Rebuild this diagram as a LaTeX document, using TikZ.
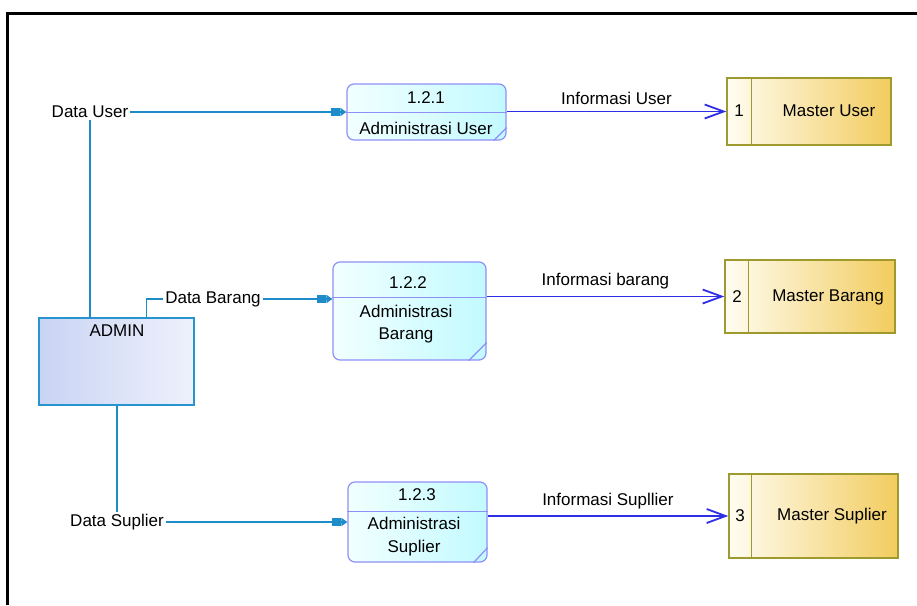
\documentclass[tikz,border=0pt]{standalone}
\usepackage{fontspec}
\setmainfont{Liberation Sans}
\usetikzlibrary{arrows.meta, positioning, calc}
\definecolor{cflow}{HTML}{1E8CC8}
\definecolor{cout}{HTML}{2E2EE8}
\definecolor{cprocline}{HTML}{8F8FF5}
\definecolor{cprocA}{HTML}{F2FFFF}
\definecolor{cprocB}{HTML}{C2FAFF}
\definecolor{cstoreline}{HTML}{9E9A2E}
\definecolor{cstoreA}{HTML}{FFFDF2}
\definecolor{cstoreB}{HTML}{F2CC5E}
\definecolor{cadminline}{HTML}{2793CF}
\definecolor{cadminA}{HTML}{C9D4F4}
\definecolor{cadminB}{HTML}{EEF1FC}
\tikzset{
  every picture/.style={font=\fontsize{17}{20}\selectfont},
  proc/.style={draw=cprocline, line width=1.2pt, rounded corners=7pt, left color=cprocA, right color=cprocB},
  procline/.style={draw=cprocline, line width=1.2pt},
  store/.style={draw=cstoreline, line width=1.5pt, left color=cstoreA, right color=cstoreB},
  storeline/.style={draw=cstoreline, line width=1.5pt},
  entity/.style={draw=cadminline, line width=1.5pt, left color=cadminA, right color=cadminB},
  dlabel/.style={inner sep=2pt},
  dline/.style={draw=cflow, line width=1.5pt},
  dflow/.style={dline, -{Square[length=9pt,width=8pt] Triangle[length=6pt,width=8pt]}},
  oflow/.style={draw=cout, line width=1.8pt, -{Straight Barb[length=19pt,width=14pt]}},
  twoline/.style={align=center, font=\fontsize{17}{22.5}\selectfont},
}

\begin{document}
\begin{tikzpicture}[x=1pt, y=-1pt]
  \useasboundingbox (0,0) rectangle (917,605);
  \draw[line width=3pt] (7,605) -- (7,13) -- (917,13);

  % external entity
  \node[entity, minimum width=155, minimum height=87] (admin) at (116.5,361.5) {};
  \node (adminlbl) at (117,331) {ADMIN};

  % processes
  \node[proc, minimum width=159, minimum height=56] (p1) at (426.5,112) {};
  \draw[procline] ($(p1.north west)+(0,29)$) -- ($(p1.north east)+(0,29)$);
  \draw[procline] ($(p1.south east)+(-13,0)$) -- ($(p1.south east)+(0,-13)$);
  \node (p1num) at (426,98) {1.2.1};
  \node (p1name) at (426,128) {Administrasi User};

  \node[proc, minimum width=153, minimum height=98] (p2) at (409.5,311) {};
  \draw[procline] ($(p2.north west)+(0,36)$) -- ($(p2.north east)+(0,36)$);
  \draw[procline] ($(p2.south east)+(-18,0)$) -- ($(p2.south east)+(0,-18)$);
  \node (p2num) at (408,283) {1.2.2};
  \node[twoline] (p2name) at (406,324) {Administrasi\\Barang};

  \node[proc, minimum width=139, minimum height=80] (p3) at (417.5,522) {};
  \draw[procline] ($(p3.north west)+(0,30)$) -- ($(p3.north east)+(0,30)$);
  \draw[procline] ($(p3.south east)+(-14,0)$) -- ($(p3.south east)+(0,-15)$);
  \node (p3num) at (417,495) {1.2.3};
  \node[twoline] (p3name) at (414,536.5) {Administrasi\\Suplier};

  % data stores
  \node[store, minimum width=164, minimum height=67] (s1) at (809,111.5) {};
  \draw[storeline] ($(s1.north west)+(25,0)$) -- ($(s1.south west)+(25,0)$);
  \node (s1num) at (739,111) {1};
  \node (s1name) at (829,111) {Master User};

  \node[store, minimum width=170, minimum height=73] (s2) at (810,296.5) {};
  \draw[storeline] ($(s2.north west)+(24,0)$) -- ($(s2.south west)+(24,0)$);
  \node (s2num) at (737,297) {2};
  \node (s2name) at (828,297) {Master Barang};

  \node[store, minimum width=169, minimum height=84] (s3) at (813.5,516) {};
  \draw[storeline] ($(s3.north west)+(23,0)$) -- ($(s3.south west)+(23,0)$);
  \node (s3num) at (740,516) {3};
  \node (s3name) at (832,516) {Master Suplier};

  % data flows from admin
  \node[dlabel] (duser) at (90,112) {Data User};
  \node[dlabel] (dbarang) at (213,299) {Data Barang};
  \node[dlabel] (dsuplier) at (117,522) {Data Suplier};
  \draw[dline] (duser |- admin.north) -- (duser.south);
  \draw[dflow] (duser.east) -- (duser -| p1.west);
  \draw[dline] ($(admin.north west)+(108,0)$) |- (dbarang.west);
  \draw[dflow] (dbarang.east) -- (dbarang -| p2.west);
  \draw[dline] (dsuplier |- admin.south) -- (dsuplier.north);
  \draw[dflow] (dsuplier.east) -- (dsuplier -| p3.west);

  % flows to stores
  \draw[oflow] (s1.west -| p1.east) -- (s1.west) node[midway, above=3pt] (iuser) {Informasi User};
  \draw[oflow] (s2.west -| p2.east) -- (s2.west) node[midway, above=3pt] (ibarang) {Informasi barang};
  \draw[oflow] (s3.west -| p3.east) -- (s3.west) node[midway, above=3pt] (isuplier) {Informasi Supllier};
\end{tikzpicture}
\end{document}
